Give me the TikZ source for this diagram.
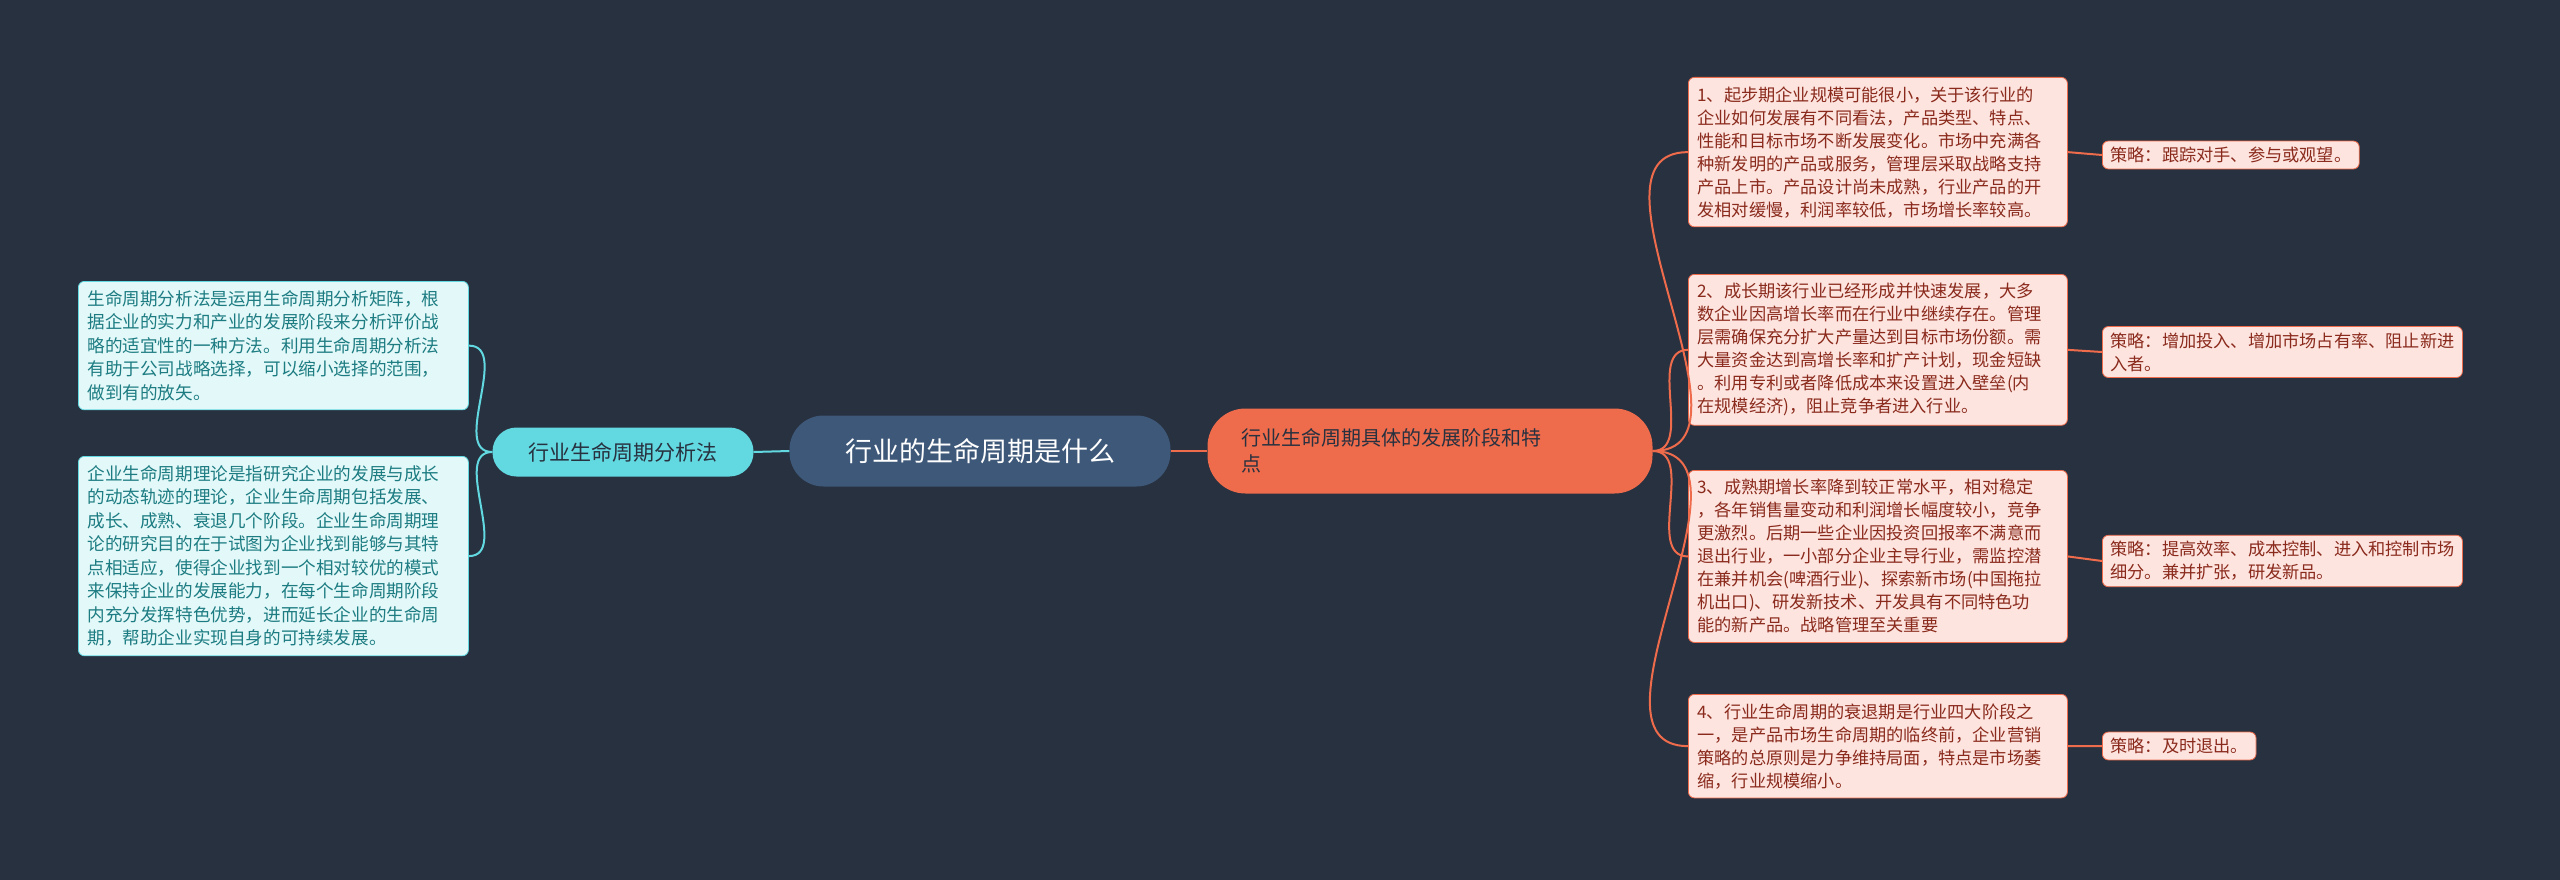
\documentclass[tikz,border=0pt]{standalone}
\usepackage{fontspec}
\setmainfont{Noto Sans CJK SC}
\definecolor{bg}{HTML}{283140}
\definecolor{ctr}{HTML}{3E5879}
\definecolor{cy}{HTML}{62D9E0}
\definecolor{cyl}{HTML}{E3F8F8}
\definecolor{cyt}{HTML}{1C7C82}
\definecolor{org}{HTML}{EE6B4B}
\definecolor{pk}{HTML}{FDE4DF}
\definecolor{pkt}{HTML}{8A2A1C}
\begin{document}
\begin{tikzpicture}[x=1pt,y=-1pt,
  lleaf/.style={anchor=north west,fill=cyl,draw=cy,line width=0.8pt,rounded corners=6pt,inner sep=9pt,text width=372pt,align=left,text=cyt,font=\fontsize{17.6}{23.5}\selectfont},
  rleaf/.style={anchor=north west,fill=pk,draw=org,line width=0.8pt,rounded corners=6pt,inner sep=9pt,text width=361pt,align=left,text=pkt,font=\fontsize{17.2}{23}\selectfont},
  strat/.style={anchor=west,fill=pk,draw=org,line width=0.8pt,rounded corners=6pt,inner xsep=8pt,inner ysep=6pt,align=left,text=pkt,font=\fontsize{17.2}{23}\selectfont},
  lcon/.style={draw=cy,line width=2pt},
  rcon/.style={draw=org,line width=2pt}]
\fill[bg] (0,0) rectangle (2560,880);
\useasboundingbox (0,0) rectangle (2560,880);
\node[fill=ctr,rounded corners=34pt,minimum width=381pt,minimum height=71pt,text=white,font=\fontsize{27}{30}\selectfont] (c) at (980,451) {行业的生命周期是什么};
\node[fill=cy,rounded corners=24pt,minimum width=261pt,minimum height=49pt,text=bg,font=\fontsize{21}{25}\selectfont] (lb) at (623,452) {行业生命周期分析法};
\node[fill=org,rounded corners=38pt,minimum width=445pt,minimum height=85pt,text=bg,font=\fontsize{20}{26}\selectfont] (rb) at (1430,451) {};
\node[anchor=west,text=bg,align=left,font=\fontsize{20}{26}\selectfont] (rbt) at (1238,451) {行业生命周期具体的发展阶段和特\\点};
\node[lleaf] (l1) at (78,281) {生命周期分析法是运用生命周期分析矩阵，根\\据企业的实力和产业的发展阶段来分析评价战\\略的适宜性的一种方法。利用生命周期分析法\\有助于公司战略选择，可以缩小选择的范围，\\做到有的放矢。};
\node[lleaf] (l2) at (78,456) {企业生命周期理论是指研究企业的发展与成长\\的动态轨迹的理论，企业生命周期包括发展、\\成长、成熟、衰退几个阶段。企业生命周期理\\论的研究目的在于试图为企业找到能够与其特\\点相适应，使得企业找到一个相对较优的模式\\来保持企业的发展能力，在每个生命周期阶段\\内充分发挥特色优势，进而延长企业的生命周\\期，帮助企业实现自身的可持续发展。};
\node[rleaf] (r1) at (1688,77) {1、起步期企业规模可能很小，关于该行业的\\企业如何发展有不同看法，产品类型、特点、\\性能和目标市场不断发展变化。市场中充满各\\种新发明的产品或服务，管理层采取战略支持\\产品上市。产品设计尚未成熟，行业产品的开\\发相对缓慢，利润率较低，市场增长率较高。};
\node[rleaf] (r2) at (1688,274) {2、成长期该行业已经形成并快速发展，大多\\数企业因高增长率而在行业中继续存在。管理\\层需确保充分扩大产量达到目标市场份额。需\\大量资金达到高增长率和扩产计划，现金短缺\\。利用专利或者降低成本来设置进入壁垒(内\\在规模经济)，阻止竞争者进入行业。};
\node[rleaf] (r3) at (1688,470) {3、成熟期增长率降到较正常水平，相对稳定\\，各年销售量变动和利润增长幅度较小，竞争\\更激烈。后期一些企业因投资回报率不满意而\\退出行业，一小部分企业主导行业，需监控潜\\在兼并机会(啤酒行业)、探索新市场(中国拖拉\\机出口)、研发新技术、开发具有不同特色功\\能的新产品。战略管理至关重要};
\node[rleaf] (r4) at (1688,694) {4、行业生命周期的衰退期是行业四大阶段之\\一，是产品市场生命周期的临终前，企业营销\\策略的总原则是力争维持局面，特点是市场萎\\缩，行业规模缩小。};
\node[strat] (s1) at (2102,155) {策略：跟踪对手、参与或观望。};
\node[strat] (s2) at (2102,352) {策略：增加投入、增加市场占有率、阻止新进\\入者。};
\node[strat] (s3) at (2102,561) {策略：提高效率、成本控制、进入和控制市场\\细分。兼并扩张，研发新品。};
\node[strat] (s4) at (2102,746) {策略：及时退出。};
\draw[lcon] (c.west) -- (lb.east);
\draw[lcon] (lb.west) to[out=180,in=0] (l1.east);
\draw[lcon] (lb.west) to[out=180,in=0] (l2.east);
\draw[rcon] (c.east) -- (rb.west);
\foreach \i in {1,2,3,4}{
  \draw[rcon] (rb.east) to[out=0,in=180] (r\i.west);
  \draw[rcon] (r\i.east) -- (s\i.west);
}
\end{tikzpicture}
\end{document}
